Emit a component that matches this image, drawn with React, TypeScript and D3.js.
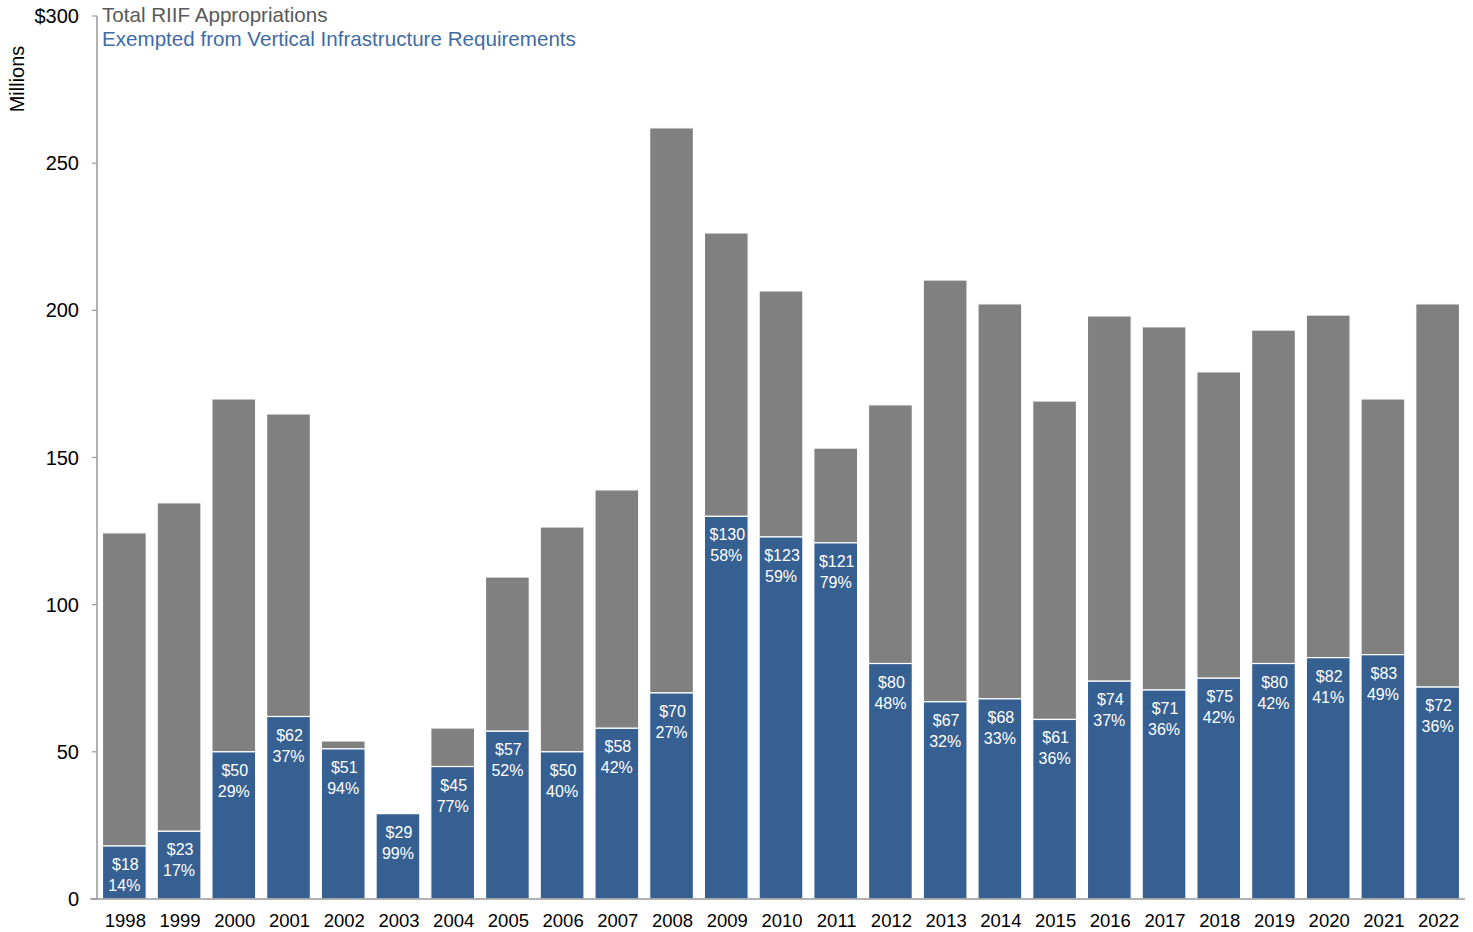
import React from "react";
import * as d3 from "d3";

const years = ["1998","1999","2000","2001","2002","2003","2004","2005","2006","2007","2008","2009","2010","2011","2012","2013","2014","2015","2016","2017","2018","2019","2020","2021","2022"];
const totals = [124.4,134.6,169.9,164.8,53.7,29.2,58.1,109.4,126.4,139,262,226.3,206.6,153.2,167.9,210.3,202.2,169.2,198.1,194.4,179.1,193.3,198.4,169.9,202.2];
const exempted = [18,23,50,62,51,29,45,57,50,58,70,130,123,121,80,67,68,61,74,71,75,80,82,83,72];
const pctLabels = ["14%","17%","29%","37%","94%","99%","77%","52%","40%","42%","27%","58%","59%","79%","48%","32%","33%","36%","37%","36%","42%","42%","41%","49%","36%"];
const yTicks = [0,50,100,150,200,250,300];

const W = 1473, H = 932;
const GRAY = "#808080";
const BLUE = "#366092";
const FONT = "'Liberation Sans', Arial, sans-serif";

export default function App() {
  const x = d3.scaleBand<string>().domain(years).range([97, 1465]).paddingInner(0.2).paddingOuter(0.1);
  const y = d3.scaleLinear().domain([0, 300]).range([899, 16]);
  const bw = x.bandwidth();
  return (
    <svg width={W} height={H} style={{ position: "absolute", left: 0, top: 0 }} fontFamily={FONT}>
      {years.map((yr, i) => {
        const x0 = x(yr)!;
        return (
          <g key={yr}>
            <rect x={x0} y={y(totals[i])} width={bw} height={y(exempted[i]) - y(totals[i])} fill={GRAY} stroke="#fff" strokeWidth={1.2} />
            <rect x={x0} y={y(exempted[i])} width={bw} height={y(0) - y(exempted[i])} fill={BLUE} stroke="#fff" strokeWidth={1.2} />
            <text x={x0 + bw / 2 + 1} y={y(exempted[i]) + 24} fill="#fff" fontSize={16} textAnchor="middle">${exempted[i]}</text>
            <text x={x0 + bw / 2} y={y(exempted[i]) + 45} fill="#fff" fontSize={16} textAnchor="middle">{pctLabels[i]}</text>
            <text x={x0 + bw / 2 + 1} y={927} fill="#000" fontSize={18.5} textAnchor="middle">{yr}</text>
          </g>
        );
      })}
      <line x1={97} x2={97} y1={16} y2={899} stroke="#999" strokeWidth={1.5} />
      <line x1={90} x2={1465} y1={899} y2={899} stroke="#999" strokeWidth={1.5} />
      {yTicks.map((t) => (
        <g key={t}>
          <line x1={92} x2={97} y1={y(t)} y2={y(t)} stroke="#999" strokeWidth={1.2} />
          <text x={79} y={y(t) + 7} fontSize={20} textAnchor="end" fill="#000">{t === 300 ? "$300" : t}</text>
        </g>
      ))}
      <text transform="translate(24,79) rotate(-90)" fontSize={20} textAnchor="middle" fill="#000">Millions</text>
      <text x={102} y={22} fontSize={20.6} fill="#595959">Total RIIF Appropriations</text>
      <text x={102} y={46} fontSize={20.6} fill="#3f6ba6">Exempted from Vertical Infrastructure Requirements</text>
    </svg>
  );
}
